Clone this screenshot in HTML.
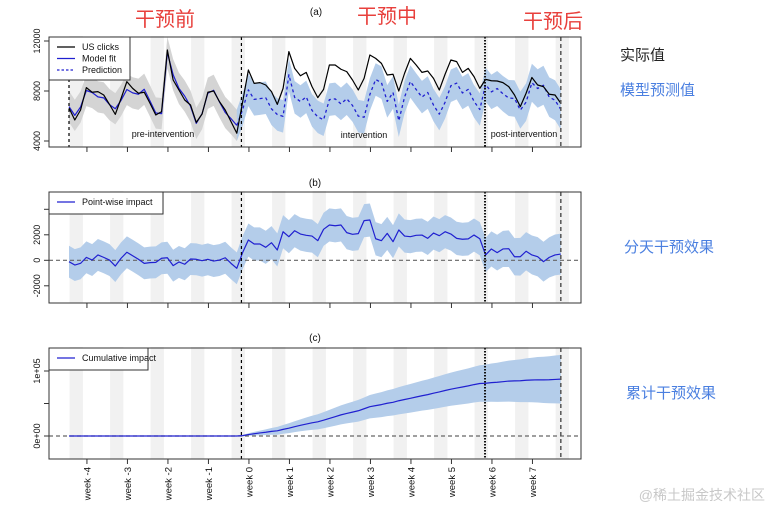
<!DOCTYPE html>
<html><head><meta charset="utf-8">
<style>
html,body{margin:0;padding:0;background:#fff;}
svg{display:block;font-family:"Liberation Sans","Noto Sans CJK SC",sans-serif;}
</style></head>
<body>
<svg id="chart" width="770" height="509" viewBox="0 0 770 509">
<defs>
<clipPath id="ca"><rect x="49" y="37" width="532" height="110"/></clipPath>
<clipPath id="cb"><rect x="49" y="192" width="532" height="111"/></clipPath>
<clipPath id="cc"><rect x="49" y="348" width="532" height="111"/></clipPath>
</defs>
<g id="bands"></g>
<g id="marks"></g>
<g id="frame"></g>
<g>
<text x="165" y="26" font-size="20" fill="#e8403c" text-anchor="middle">干预前</text>
<text x="387" y="23" font-size="20" fill="#e8403c" text-anchor="middle">干预中</text>
<text x="553" y="28" font-size="20" fill="#e8403c" text-anchor="middle">干预后</text>
<text x="620" y="60" font-size="15" fill="#222">实际值</text>
<text x="620" y="95" font-size="15" fill="#4a7fe0">模型预测值</text>
<text x="624" y="252" font-size="15" fill="#4a7fe0">分天干预效果</text>
<text x="626" y="398" font-size="15" fill="#4a7fe0">累计干预效果</text>
<text x="765" y="500" font-size="14" fill="#c8c8c8" text-anchor="end">@稀土掘金技术社区</text>
</g>
</svg>
<script>
const clicks=[6640,5680,6480,8270,7900,7950,7680,6930,6130,7410,8750,8210,7820,7900,7020,6080,6350,11280,8880,8080,7280,6880,5490,6160,7900,8000,7150,6480,5550,4620,
7100,9680,8610,8670,8480,7950,6930,8210,11150,9810,9220,9490,8350,7470,8130,10080,10080,9740,9550,8880,8080,9010,10880,10610,10210,9280,9340,8000,9420,10610,10080,9490,9600,9010,8080,9340,10480,10350,9490,9810,9150,8210,
8930,8820,8800,8670,8350,7680,6750,7820,9080,8480,8350,7740,7680,7020];
const pointImpact=[-110,-370,-240,230,20,420,230,20,-450,160,630,360,80,-240,-180,-160,160,200,-420,-130,-310,100,80,-30,80,-60,20,200,-240,-630,
600,1590,1280,1280,1020,1380,810,2240,1850,2320,2060,1960,1900,1540,2430,2770,2710,2770,2170,2040,2090,3110,3160,1690,1540,2110,1460,2380,1900,1850,1960,1980,1720,2140,1930,2240,2060,1720,1650,1680,1980,1690,
420,890,600,890,910,280,280,710,420,280,-110,230,420,490];
const bandHalf=[1250,1250,1250,1250,1250,1250,1250,1250,1250,1250,1250,1250,1250,1250,1250,1250,1250,1250,1250,1250,1250,1250,1250,1250,1250,1250,1250,1250,1250,1250,
1300,1300,1300,1300,1300,1300,1300,1300,1300,1300,1300,1300,1300,1300,1300,1300,1300,1300,1300,1300,1300,1300,1300,1300,1300,1300,1300,1300,1300,1300,1300,1300,1300,1300,1300,1300,1300,1300,1300,1300,1300,1300,
1350,1380,1400,1420,1440,1460,1480,1500,1520,1540,1560,1580,1600,1600];
const cumBandHalf=[1000,2000,2800,3600,4400,5200,6000,6800,7600,8400,9200,10000,10800,11600,12400,13200,13900,14600,15300,16000,16700,17400,18000,18600,19200,19800,20400,21000,21500,22000,22500,23000,23500,24000,24500,25000,25500,26000,26500,27000,27500,28000,28700,29400,30100,30800,31500,32200,32900,33600,34300,35000,35600,36200,36800,37400];
const weekLabels=["week -4","week -3","week -2","week -1","week 0","week 1","week 2","week 3","week 4","week 5","week 6","week 7"];
const yTicksA=[4000,8000,12000];
const yTicksB=[-2000,0,2000,4000];
const yTickLabelsB=["-2000","0","2000",""];
const yTicksC=[0,50000,100000];
const yTickLabelsC=["0e+00","","1e+05"];
const interventionIdx=30, postIdx=72;

const NS="http://www.w3.org/2000/svg";
const X=i=>69+5.786*i;
const YA=v=>141-(v-4000)*0.0125;
const YB=v=>260.3-v*0.01275;
const YC=v=>436-v*0.00065;
function mk(tag,attrs,parent,txt){const e=document.createElementNS(NS,tag);for(const k in attrs)e.setAttribute(k,attrs[k]);if(txt!==undefined)e.textContent=txt;parent.appendChild(e);return e;}
const bandsG=document.getElementById('bands'),marksG=document.getElementById('marks'),frameG=document.getElementById('frame');
const n=clicks.length;
const pred=clicks.map((c,i)=>c-pointImpact[i]);
const cum=[];let s=0;for(let i=0;i<n;i++){if(i>=interventionIdx)s+=pointImpact[i];cum.push(s);}
const panels=[{top:37,bot:147,clip:'ca'},{top:192,bot:303,clip:'cb'},{top:348,bot:459,clip:'cc'}];
// weekend bands
panels.forEach((p,pi)=>{for(let k=0;k<13;k++){const x0=X(7*k+0.1),x1=Math.min(X(7*k+2.4),581);if(x0>=581)break;
const r=mk('rect',{x:x0,y:p.top-1,width:x1-x0,height:p.bot-p.top+1,fill:'#f1f1f1'},bandsG);

}});
function area(lo,hi,i0,i1,yf,fill,parent,name){let d='';for(let i=i0;i<=i1;i++)d+=(i===i0?'M':'L')+X(i).toFixed(2)+','+yf(hi(i)).toFixed(2);for(let i=i1;i>=i0;i--)d+='L'+X(i).toFixed(2)+','+yf(lo(i)).toFixed(2);d+='Z';
const e=mk('path',{d:d,fill:fill,stroke:'none'},parent);

return e;}
function line(vals,i0,i1,yf,stroke,w,dash,parent,name){let d='';for(let i=i0;i<=i1;i++)d+=(i===i0?'M':'L')+X(i).toFixed(2)+','+yf(vals[i]).toFixed(2);
const e=mk('path',{d:d,fill:'none',stroke:stroke,'stroke-width':w,'stroke-dasharray':dash||'none','stroke-linejoin':'round'},parent);

return e;}
// panel a
const ga=mk('g',{'clip-path':'url(#ca)'},marksG);
area(i=>pred[i]-bandHalf[i],i=>pred[i]+bandHalf[i],0,interventionIdx,YA,'#d4d4d4',ga,'model-fit-band');
area(i=>pred[i]-bandHalf[i],i=>pred[i]+bandHalf[i],interventionIdx-1,n-1,YA,'#b4cdea',ga,'prediction-band');
line(pred,0,interventionIdx-1,YA,'#2020d0',1.2,null,ga,'model-fit-line');
line(pred,interventionIdx-1,n-1,YA,'#2020d0',1.3,'3,3',ga,'prediction-line');
line(clicks,0,n-1,YA,'#000',1.2,null,ga,'us-clicks-line');
// panel b
const gb=mk('g',{'clip-path':'url(#cb)'},marksG);
area(i=>pointImpact[i]-bandHalf[i],i=>pointImpact[i]+bandHalf[i],0,n-1,YB,'#b4cdea',gb,'pointwise-band');
mk('line',{x1:49,x2:581,y1:YB(0),y2:YB(0),stroke:'#666','stroke-width':1.2,'stroke-dasharray':'4,3'},gb);
line(pointImpact,0,n-1,YB,'#2020d0',1.2,null,gb,'pointwise-impact-line');
// panel c
const gc=mk('g',{'clip-path':'url(#cc)'},marksG);
const cb=i=>i<interventionIdx?0:cumBandHalf[i-interventionIdx];
area(i=>cum[i]-cb(i),i=>cum[i]+cb(i),interventionIdx-1,n-1,YC,'#b4cdea',gc,'cumulative-band');
mk('line',{x1:49,x2:581,y1:YC(0),y2:YC(0),stroke:'#666','stroke-width':1.2,'stroke-dasharray':'4,3'},gc);
line(cum,0,n-1,YC,'#2020d0',1.2,null,gc,'cumulative-impact-line');
// vertical lines
const xi=X(interventionIdx-0.2),xp=X(postIdx-0.1),xe=X(n-1);
panels.forEach((p,pi)=>{
if(pi===0)mk('line',{x1:X(0),x2:X(0),y1:p.top,y2:p.bot,stroke:'#000','stroke-width':1.2,'stroke-dasharray':'3,3'},frameG);
mk('line',{x1:xi,x2:xi,y1:p.top,y2:p.bot,stroke:'#000','stroke-width':1.2,'stroke-dasharray':'3,3'},frameG);
mk('line',{x1:xp,x2:xp,y1:p.top,y2:p.bot,stroke:'#111','stroke-width':2,'stroke-dasharray':'1.5,1.5'},frameG);
mk('line',{x1:xe,x2:xe,y1:p.top,y2:p.bot,stroke:'#555','stroke-width':1.5,'stroke-dasharray':'4,3'},frameG);
const b=mk('rect',{x:49,y:p.top,width:532,height:p.bot-p.top,fill:'none',stroke:'#333','stroke-width':1},frameG);


weekLabels.forEach((w,k)=>{const x=X(3.1+7*k);mk('line',{x1:x,x2:x,y1:p.bot,y2:p.bot+5,stroke:'#333'},frameG);});
});
// y axes
function yaxis(vals,labels,yf,name){vals.forEach((v,k)=>{const y=yf(v);mk('line',{x1:44,x2:49,y1:y,y2:y,stroke:'#333'},frameG);
if(labels[k]){const t=mk('text',{x:0,y:0,transform:`translate(40,${y}) rotate(-90)`,'font-size':9,'text-anchor':'middle',fill:'#111'},frameG,labels[k]);

}});}
yaxis(yTicksA,yTicksA.map(String),YA,'y-tick-label-a');
yaxis(yTicksB,yTickLabelsB,YB,'y-tick-label-b');
yaxis(yTicksC,yTickLabelsC,YC,'y-tick-label-c');
// x labels
weekLabels.forEach((w,k)=>{const x=X(3.1+7*k);const t=mk('text',{x:0,y:0,transform:`translate(${x+3.5},467) rotate(-90)`,'font-size':9.5,'text-anchor':'end',fill:'#111'},frameG,w);

});
// titles & region labels
[['(a)',316,15],['(b)',315,186],['(c)',315,341]].forEach(a=>{const t=mk('text',{x:a[1],y:a[2],'font-size':10,'text-anchor':'middle',fill:'#111'},frameG,a[0]);

});
[['pre-intervention',163,137],['intervention',364,138],['post-intervention',524,137]].forEach(a=>{const t=mk('text',{x:a[1],y:a[2],'font-size':9,'text-anchor':'middle',fill:'#111'},frameG,a[0]);

});
// legends
function legend(x,y,w,h,items,name){const g=mk('g',{},frameG);


mk('rect',{x:x,y:y,width:w,height:h,fill:'#fff',stroke:'#333'},g);
items.forEach((it,k)=>{const yy=y+10+k*11.5;mk('line',{x1:x+8,x2:x+26,y1:yy,y2:yy,stroke:it[1],'stroke-width':1.3,'stroke-dasharray':it[2]||'none'},g);
mk('text',{x:x+33,y:yy+3.2,'font-size':9,fill:'#111'},g,it[0]);});}
legend(49,37,81,43,[['US clicks','#000'],['Model fit','#2020d0'],['Prediction','#2020d0','2.5,2']],'legend-a');
legend(49,192,114,22,[['Point-wise impact','#2020d0']],'legend-b');
legend(49,348,99,22,[['Cumulative impact','#2020d0']],'legend-c');
</script>
</body></html>
